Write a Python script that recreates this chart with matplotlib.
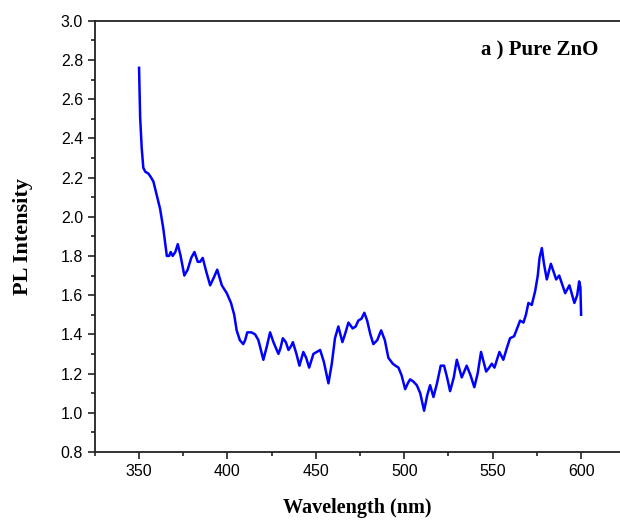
import matplotlib
matplotlib.use('Agg')
import matplotlib.pyplot as plt
from matplotlib.ticker import MultipleLocator

# PL spectrum, pure ZnO
wavelength = [350, 350.6, 351.5, 352.4, 353.5, 355.3, 356.8, 358.1, 360.0, 361.9, 363.7,
              365.0, 365.7, 367.0, 367.9, 369.0, 370.5, 371.9, 373.5, 375.6, 377.5,
              379.5, 381.3, 383.2, 384.5, 386.0, 388.0, 390.2, 392.3, 394.2, 396.8,
              399.6, 402.0, 403.8, 405.2, 407.0, 408.9, 410.0, 411.2, 413.5, 415.6,
              417.5, 420.3, 422.3, 424.1, 426.0, 428.8, 430.0, 431.3, 433.0, 434.5,
              436.0, 437.0, 439.0, 440.7, 442.9, 444.5, 446.2, 448.6, 450.5, 452.4,
              454.5, 457.1, 459.0, 460.8, 462.7, 465.0, 466.8, 468.4, 470.8, 472.5,
              474.0, 475.8, 477.4, 479.0, 480.8, 482.5, 484.7, 486.9, 489.0, 491.0,
              493.5, 495.0, 496.7, 498.5, 500.5, 502.0, 503.3, 505.0, 507.1, 509.0,
              511.2, 513.0, 514.6, 516.5, 518.5, 520.6, 522.5, 524.2, 525.9, 528.0,
              529.7, 532.5, 535.3, 537.5, 539.6, 541.5, 543.4, 546.3, 548.0, 549.5,
              551.0, 553.8, 556.0, 558.0, 559.8, 562.1, 563.8, 565.5, 567.4, 568.8,
              570.2, 572.1, 574.0, 575.5, 576.5, 577.8, 579.0, 580.6, 582.9, 585.9,
              587.6, 591.0, 593.4, 596.2, 597.8, 598.9, 599.6, 600.0]
intensity = [2.76, 2.51, 2.35, 2.25, 2.23, 2.22, 2.20, 2.18, 2.11, 2.04, 1.94,
             1.85, 1.80, 1.80, 1.82, 1.80, 1.82, 1.86, 1.80, 1.70, 1.73,
             1.79, 1.82, 1.77, 1.77, 1.79, 1.72, 1.65, 1.69, 1.73, 1.65,
             1.61, 1.56, 1.50, 1.42, 1.37, 1.35, 1.37, 1.41, 1.41, 1.40,
             1.37, 1.27, 1.34, 1.41, 1.36, 1.30, 1.33, 1.38, 1.36, 1.32,
             1.34, 1.36, 1.30, 1.24, 1.31, 1.28, 1.23, 1.30, 1.31, 1.32,
             1.26, 1.15, 1.25, 1.38, 1.44, 1.36, 1.41, 1.46, 1.43, 1.44,
             1.47, 1.48, 1.51, 1.47, 1.40, 1.35, 1.37, 1.42, 1.37, 1.28,
             1.25, 1.24, 1.23, 1.19, 1.12, 1.15, 1.17, 1.16, 1.14, 1.10,
             1.01, 1.09, 1.14, 1.08, 1.15, 1.24, 1.24, 1.18, 1.11, 1.18,
             1.27, 1.18, 1.24, 1.19, 1.13, 1.20, 1.31, 1.21, 1.23, 1.25,
             1.23, 1.31, 1.27, 1.33, 1.38, 1.39, 1.43, 1.47, 1.46, 1.50,
             1.56, 1.55, 1.62, 1.70, 1.79, 1.84, 1.76, 1.68, 1.76, 1.68,
             1.70, 1.61, 1.65, 1.56, 1.60, 1.67, 1.64, 1.50]

fig = plt.figure(figsize=(6.2, 5.2), dpi=100)
ax = fig.add_axes([0.153, 0.131, 0.847, 0.829])

ax.plot(wavelength, intensity, color='#0000ff', linewidth=1.8,
        solid_joinstyle='round')

ax.set_xlim(325, 622)
ax.set_ylim(0.8, 3.0)
ax.xaxis.set_major_locator(MultipleLocator(50))
ax.xaxis.set_minor_locator(MultipleLocator(25))
ax.yaxis.set_major_locator(MultipleLocator(0.2))
ax.yaxis.set_minor_locator(MultipleLocator(0.1))
ax.tick_params(which='both', direction='out', width=1.2, colors='#222222',
               labelcolor='black', labelsize=11.5)
ax.tick_params(which='major', length=5)
ax.tick_params(which='minor', length=3)
ax.tick_params(top=False, right=False)
for lab in ax.get_xticklabels() + ax.get_yticklabels():
    lab.set_family('Liberation Sans')

for side in ['left', 'bottom', 'top']:
    ax.spines[side].set_linewidth(1.3)
    ax.spines[side].set_color('#222222')
ax.spines['right'].set_visible(False)

ax.set_xlabel('Wavelength (nm)', family='Liberation Serif', fontweight='bold',
              fontsize=14.5, labelpad=14)
ax.set_ylabel('PL Intensity', family='Liberation Serif', fontweight='bold',
              fontsize=16, labelpad=20)
ax.text(0.958, 0.93, 'a ) Pure ZnO', transform=ax.transAxes, ha='right', va='center',
        family='Liberation Serif', fontweight='bold', fontsize=15)

fig.savefig('out.png', dpi=100)
